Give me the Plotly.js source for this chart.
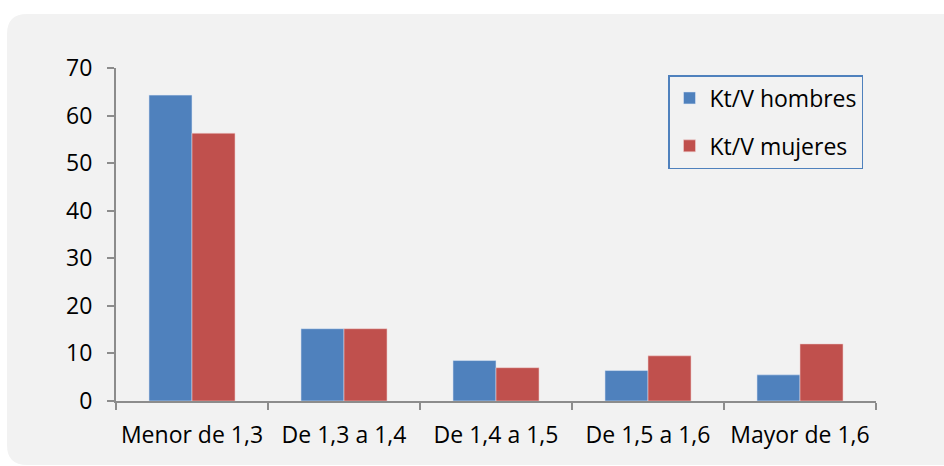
<!DOCTYPE html>
<html>
<head>
<meta charset="utf-8">
<script src="https://cdn.plot.ly/plotly-3.0.1.min.js"></script>
<style>
  html, body { margin: 0; padding: 0; background: #ffffff; overflow: hidden; }
  #chart { width: 944px; height: 466px; }
</style>
</head>
<body>
<div id="chart"></div>
<script>
// Kt/V ranges and percentage of patients by sex
const categories = ["Menor de 1,3", "De 1,3 a 1,4", "De 1,4 a 1,5", "De 1,5 a 1,6", "Mayor de 1,6"];
const hombres = [64.3, 15.2, 8.5, 6.4, 5.5];
const mujeres = [56.3, 15.2, 7.0, 9.5, 12.0];
const seriesNames = ["Kt/V hombres", "Kt/V mujeres"];

const W = 944, H = 466;
const margin = { l: 116, r: 68, t: 68, b: 65 };
const plotW = W - margin.l - margin.r;
const plotH = H - margin.t - margin.b;

// pixel -> paper coordinates for the rounded background panel
const px = x => (x - margin.l) / plotW;
const py = y => (H - margin.b - y) / plotH;

function roundedPanel(x0, y0, x1, y1, r) {
  const P = (x, y) => px(x) + " " + py(y);
  return "M " + P(x0 + r, y0) +
    " L " + P(x1 - r, y0) +
    " Q " + P(x1, y0) + " " + P(x1, y0 + r) +
    " L " + P(x1, y1 - r) +
    " Q " + P(x1, y1) + " " + P(x1 - r, y1) +
    " L " + P(x0 + r, y1) +
    " Q " + P(x0, y1) + " " + P(x0, y1 - r) +
    " L " + P(x0, y0 + r) +
    " Q " + P(x0, y0) + " " + P(x0 + r, y0) + " Z";
}

const font = "'Open Sans', 'Liberation Sans', sans-serif";
const FS = 23;

const traces = [
  {
    type: "bar", name: seriesNames[0], x: categories, y: hombres,
    marker: { color: "#4f81bd", line: { color: "rgba(220,230,245,0.7)", width: 0.8 } },
    legendgroup: "a", hoverinfo: "none"
  },
  {
    type: "bar", name: seriesNames[1], x: categories, y: mujeres,
    marker: { color: "#c0504d", line: { color: "rgba(240,210,210,0.7)", width: 0.8 } },
    legendgroup: "b", hoverinfo: "none"
  }
];

const layout = {
  width: W, height: H,
  margin: margin,
  paper_bgcolor: "#ffffff",
  plot_bgcolor: "rgba(0,0,0,0)",
  barmode: "group",
  bargap: 0.434,
  bargroupgap: 0,
  font: { family: font, size: FS, color: "#000000" },
  showlegend: true,
  legend: {
    x: px(668), y: py(75), xanchor: "left", yanchor: "top",
    bgcolor: "rgba(0,0,0,0)",
    bordercolor: "#4f81bd", borderwidth: 1.5,
    font: { family: font, size: FS, color: "#000000" },
    traceorder: "grouped",
    tracegroupgap: 15,
    itemwidth: 30
  },
  xaxis: {
    type: "category",
    showline: true, linecolor: "#8c8c8c", linewidth: 2,
    ticks: "outside", tickson: "boundaries", ticklen: 7, tickwidth: 2, tickcolor: "#8c8c8c",
    tickangle: 0,
    ticklabelstandoff: 12,
    showgrid: false, zeroline: false,
    tickfont: { family: font, size: FS, color: "#000000" },
    fixedrange: true
  },
  yaxis: {
    range: [0, 70], dtick: 10, tick0: 0,
    showline: true, linecolor: "#8c8c8c", linewidth: 2,
    ticks: "outside", ticklen: 7, tickwidth: 2, tickcolor: "#8c8c8c",
    ticklabelstandoff: 10,
    showgrid: false, zeroline: false,
    tickfont: { family: font, size: FS, color: "#000000" },
    fixedrange: true
  },
  shapes: [
    {
      type: "path", xref: "paper", yref: "paper", layer: "below",
      path: roundedPanel(7, 14, W + 30, 465, 20),
      fillcolor: "#f2f2f2", line: { width: 0 }
    }
  ]
};

Plotly.newPlot("chart", traces, layout, { displayModeBar: false, staticPlot: true });
</script>
</body>
</html>
